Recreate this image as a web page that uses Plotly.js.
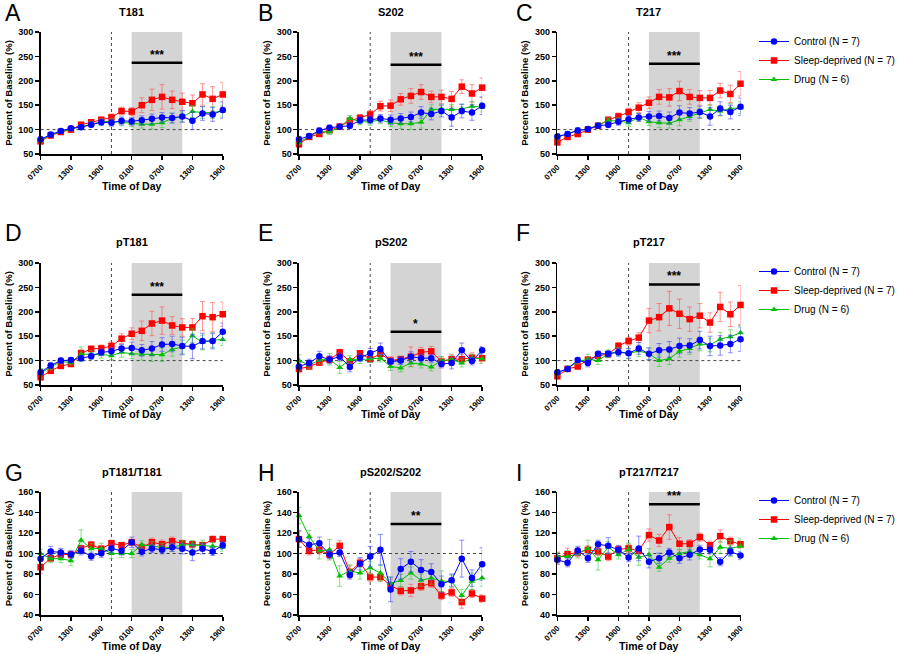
<!DOCTYPE html>
<html><head><meta charset="utf-8">
<script src="https://cdn.plot.ly/plotly-3.0.1.min.js"></script>
<style>html,body{margin:0;padding:0;background:#fff}#chart{width:900px;height:654px}</style>
</head><body><div id="chart"></div>
<script>
// x positions: hours after 0700 on day 1
const hours = [0,2,4,6,8,10,12,14,16,18,20,22,24,26,28,30,32,34,36];
const tickVals = [0,6,12,18,24,30,36];
const tickText = ['0700','1300','1900','0100','0700','1300','1900'];
const seriesNames = ['Control (N = 7)','Sleep-deprived (N = 7)','Drug (N = 6)'];
const panelTitles = ['T181','S202','T217','pT181','pS202','pT217','pT181/T181','pS202/S202','pT217/T217'];
const panelLetters = ['A','B','C','D','E','F','G','H','I'];
const sigStars = ['***','***','***','***','*','***','','**','***'];
const sigY = [237,233,235,235,159,256,null,128.7,148];
const lightsOff = 14, sdStart = 18, sdEnd = 28;

// Panel A T181
const A_ctrl = [80,90,97,103,105,110,115,114,118,117,119,122,125,124,127,118,133,131,140];
const A_sd   = [76,88,95,100,110,115,120,125,138,137,150,161,167,161,157,154,172,163,172];
const A_drug = [78,89,96,101,106,112,116,117,115,113,111,111,114,123,126,137,135,135,138];
const A_ctrlErr = [5,4,4,4,4,5,6,7,8,8,9,10,10,10,12,18,14,14,17];
const A_sdErr   = [6,5,5,5,5,5,6,7,8,8,15,22,25,18,18,17,22,25,25];
const A_drugErr = [4,4,4,4,4,5,6,6,7,7,8,10,10,10,10,12,12,12,12];
// Panel B S202
const B_ctrl = [80,87,98,104,106,108,119,120,123,120,123,126,135,132,138,125,138,135,149];
const B_sd   = [70,85,91,99,106,118,124,131,148,149,162,169,177,167,167,163,188,174,186];
const B_drug = [74,86,96,95,105,123,116,116,120,114,112,112,115,141,142,141,142,148,146];
const B_ctrlErr = [6,5,5,5,5,6,7,8,8,10,10,10,12,12,12,18,14,16,18];
const B_sdErr   = [6,5,5,5,5,6,7,8,10,12,12,15,15,12,14,15,14,18,20];
const B_drugErr = [5,5,5,5,5,6,6,7,8,8,10,12,12,10,10,10,10,10,10];
// Panel C T217
const C_ctrl = [86,91,98,101,108,110,116,121,125,127,128,124,135,133,136,127,143,136,147];
const C_sd   = [74,85,91,100,108,120,127,136,145,155,167,166,179,167,165,165,180,173,194];
const C_drug = [84,91,99,101,109,118,118,114,125,116,114,113,120,127,133,141,138,143,145];
const C_ctrlErr = [6,5,5,5,5,6,7,8,8,10,10,12,14,12,12,18,14,14,18];
const C_sdErr   = [6,5,5,5,5,6,7,8,10,12,15,18,20,15,15,15,15,18,25];
const C_drugErr = [5,5,5,5,5,6,6,7,8,8,10,10,12,10,10,10,10,10,12];
// Panel D pT181
const D_ctrl = [76,90,100,101,105,109,117,119,125,126,121,125,133,134,130,129,140,140,159];
const D_sd   = [66,79,89,93,115,124,125,130,145,155,161,176,182,172,168,168,191,189,195];
const D_drug = [74,87,98,96,113,113,113,110,117,114,113,112,112,123,128,151,137,142,143];
const D_ctrlErr = [6,5,5,5,5,6,7,8,8,12,12,14,14,16,18,25,16,16,18];
const D_sdErr   = [6,5,5,5,8,6,7,8,10,12,20,25,28,18,18,18,30,30,25];
const D_drugErr = [10,6,5,5,15,8,8,8,10,10,12,14,14,14,14,14,15,15,12];
// Panel E pS202
const E_ctrl = [88,95,109,102,108,87,106,115,124,98,100,108,105,105,93,95,121,99,121];
const E_sd   = [83,88,96,102,117,98,115,103,114,100,103,108,117,119,98,103,103,106,105];
const E_drug = [100,91,101,103,86,102,102,104,105,88,85,95,93,87,100,102,95,105,104];
const E_ctrlErr = [8,8,10,8,8,10,8,10,12,6,8,10,8,8,8,12,15,8,8];
const E_sdErr   = [8,6,6,6,6,6,6,6,8,8,6,20,10,10,10,10,10,10,10];
const E_drugErr = [12,8,8,12,12,8,8,8,8,8,8,8,8,8,8,8,8,8,10];
// Panel F pT217
const F_ctrl = [76,83,101,95,114,114,117,115,125,114,121,123,130,131,142,130,131,134,144];
const F_sd   = [68,83,88,102,110,113,130,140,147,182,189,207,196,185,192,178,210,195,214];
const F_drug = [74,84,98,103,100,114,119,114,120,114,100,104,119,125,134,132,144,149,157];
const F_ctrlErr = [6,5,5,8,5,6,8,10,12,12,14,16,16,14,18,20,20,18,25];
const F_sdErr   = [6,5,5,5,5,6,7,8,10,25,28,35,30,25,25,20,30,25,40];
const F_drugErr = [5,5,5,10,8,8,8,10,12,12,12,12,12,12,14,14,14,14,15];
// Panel G pT181/T181
const G_ctrl = [95,102,101,99,102.6,97.4,100.3,105,102.6,111,101.6,105,103.6,106,104.6,101,104.6,102,108];
const G_sd   = [86.6,95.4,99,99,105,108.5,104.6,110,108,111,106,111,109,112,110,109,108,114,114];
const G_drug = [100,95,95,93,113,104.6,105,100,100,100,108.5,107.5,106,106,108.5,108.5,108,107,106];
const G_ctrlErr = [5,5,4,4,4,4,4,4,4,5,4,4,4,4,5,8,5,4,4];
const G_sdErr   = [6,3,3,3,3,3,3,3,3,3,4,4,4,4,3,3,3,3,3];
const G_drugErr = [4,4,4,5,10,5,5,5,4,4,4,4,4,4,4,4,5,4,4];
// Panel H pS202/S202
const H_ctrl = [114,108.5,110,99,101,79,90,97,103.6,65,85,92,84,82,70,74,95,76,89.6];
const H_sd   = [114,102.6,103.6,99,107.5,82,91,77,77,69,63.5,64,68,71,59,62,52.6,61,56];
const H_drug = [137,116.6,102.6,103.6,78,83,81,86,81,71,73.6,81,74,76,73,73,59,73,76];
const H_ctrlErr = [8,6,6,4,4,4,6,10,15,12,10,10,10,8,8,6,18,8,16];
const H_sdErr   = [8,4,4,4,5,6,4,4,4,6,4,6,4,4,4,4,6,4,4];
const H_drugErr = [8,6,8,10,10,6,6,6,8,6,6,6,6,6,10,6,6,8,8];
// Panel I pT217/T217
const I_ctrl = [93.8,91,103,95.4,109,107.5,103.6,96,105,92,95.4,101,95.4,98.7,104,103.6,92,102,98];
const I_sd   = [95.4,99.3,101,103.6,102,97,104,105,102.6,118,112.7,125.8,109.5,109.5,116,108,117,112,109];
const I_drug = [97,97,99.7,105,93.8,106,98.7,104,96.4,98.7,86.6,95.4,100,102,98.7,95,106,105,107];
const I_ctrlErr = [4,4,4,4,4,8,4,4,12,6,5,4,5,5,4,4,4,4,4];
const I_sdErr   = [6,6,4,4,4,4,4,4,4,6,6,12,6,4,4,4,6,4,4];
const I_drugErr = [4,6,4,8,10,6,4,6,8,6,4,4,4,4,4,8,6,8,8];

const panelData = [
  [A_ctrl,A_sd,A_drug,A_ctrlErr,A_sdErr,A_drugErr],
  [B_ctrl,B_sd,B_drug,B_ctrlErr,B_sdErr,B_drugErr],
  [C_ctrl,C_sd,C_drug,C_ctrlErr,C_sdErr,C_drugErr],
  [D_ctrl,D_sd,D_drug,D_ctrlErr,D_sdErr,D_drugErr],
  [E_ctrl,E_sd,E_drug,E_ctrlErr,E_sdErr,E_drugErr],
  [F_ctrl,F_sd,F_drug,F_ctrlErr,F_sdErr,F_drugErr],
  [G_ctrl,G_sd,G_drug,G_ctrlErr,G_sdErr,G_drugErr],
  [H_ctrl,H_sd,H_drug,H_ctrlErr,H_sdErr,H_drugErr],
  [I_ctrl,I_sd,I_drug,I_ctrlErr,I_sdErr,I_drugErr]
];

const W = 900, H = 654;
const FONT = 'Liberation Sans, Arial, sans-serif';
const colX = [[41,225],[302,487],[563,748]];
const rowY = [[32,154],[263,385],[492,615]];
const titleY = [12,242,472];
const letterX = [3,259,519];
const letterY = [13,233,473];
const xTitleY = [186,414,646];

const colors = {ctrl:'#0000ff', sd:'#ff0000', drug:'#00c000'};
const errColors = {ctrl:'rgba(70,70,255,0.6)', sd:'rgba(255,80,80,0.6)', drug:'rgba(60,200,60,0.6)'};

const traces = [];
const layout = {
  width: W, height: H,
  margin: {l:0, r:0, t:0, b:0},
  paper_bgcolor:'#fff', plot_bgcolor:'rgba(0,0,0,0)',
  font: {family: FONT, color:'#000'},
  showlegend: true,
  shapes: [], annotations: []
};

const legendNames = ['legend','legend2','legend3'];

for (let p = 0; p < 9; p++) {
  const r = Math.floor(p/3), c = p % 3;
  const xa = 'xaxis' + (p===0?'':p+1), ya = 'yaxis' + (p===0?'':p+1);
  const xr = 'x' + (p===0?'':p+1), yr = 'y' + (p===0?'':p+1);
  const isRatio = r === 2;
  layout[xa] = {
    domain: [colX[c][0]/W, colX[c][1]/W], anchor: yr,
    range: [0,36], tickvals: tickVals, ticktext: tickText, tickangle: -45,
    showline: true, linecolor:'#000', linewidth: 1.5, showgrid: false, zeroline: false,
    ticks:'outside', ticklen: 4, tickwidth: 1.5, tickcolor:'#000',
    tickfont: {size: 8, weight: 'bold', family: FONT},
    fixedrange: true
  };
  layout[ya] = {
    domain: [1 - rowY[r][1]/H, 1 - rowY[r][0]/H], anchor: xr,
    range: isRatio ? [40,160] : [50,300], dtick: isRatio ? 20 : 50,
    showline: true, linecolor:'#000', linewidth: 1.5, showgrid: false, zeroline: false,
    ticks:'outside', ticklen: 4, tickwidth: 1.5, tickcolor:'#000',
    tickfont: {size: 9, weight: 'bold', family: FONT},
    title: {text: 'Percent of Baseline (%)', font: {size: 9.5, weight: 'bold', family: FONT}, standoff: 4},
    fixedrange: true
  };
  // grey sleep-deprivation window
  layout.shapes.push({type:'rect', xref:xr, yref: yr+' domain', x0: sdStart, x1: sdEnd, y0: 0, y1: 1,
    fillcolor:'#d4d4d4', line:{width:0}, layer:'below'});
  // lights-off dotted line
  layout.shapes.push({type:'line', xref:xr, yref: yr+' domain', x0: lightsOff, x1: lightsOff, y0: 0, y1: 1,
    line:{color:'#444', width:1, dash:'dot'}, layer:'below'});
  // baseline dotted line
  layout.shapes.push({type:'line', xref: xr+' domain', yref: yr, x0: 0, x1: 1, y0: 100, y1: 100,
    line:{color:'#444', width:1, dash:'dot'}, layer:'below'});
  // significance bar
  if (sigStars[p]) {
    layout.shapes.push({type:'line', xref:xr, yref:yr, x0: sdStart, x1: sdEnd, y0: sigY[p], y1: sigY[p],
      line:{color:'#000', width:2.5}});
    layout.annotations.push({xref:xr, yref:yr, x:(sdStart+sdEnd)/2, y:sigY[p], yanchor:'bottom', yshift:-1,
      text: sigStars[p], showarrow:false, font:{size:12, weight:'bold', family:FONT}});
  }
  // panel title
  layout.annotations.push({xref:'paper', yref:'paper', x:(colX[c][0]+colX[c][1])/2/W, y:1-titleY[r]/H,
    xanchor:'center', yanchor:'middle', text: panelTitles[p], showarrow:false,
    font:{size:11, weight:'bold', family:FONT}});
  // panel letter
  layout.annotations.push({xref:'paper', yref:'paper', x:letterX[c]/W, y:1-letterY[r]/H,
    xanchor:'left', yanchor:'middle', text: panelLetters[p], showarrow:false,
    font:{size:23, family:FONT}});
  // x title
  layout.annotations.push({xref:'paper', yref:'paper', x:(colX[c][0]+colX[c][1])/2/W, y:1-xTitleY[r]/H,
    xanchor:'center', yanchor:'middle', text: 'Time of Day', showarrow:false,
    font:{size:10.5, weight:'bold', family:FONT}});

  const d = panelData[p];
  const showLeg = c === 2;
  const specs = [
    {key:'sd', y:d[1], e:d[4], name:seriesNames[1], sym:'square', size:6.5, rank:2},
    {key:'drug', y:d[2], e:d[5], name:seriesNames[2], sym:'triangle-up', size:6, rank:3},
    {key:'ctrl', y:d[0], e:d[3], name:seriesNames[0], sym:'circle', size:6.5, rank:1}
  ];
  specs.forEach(s => {
    traces.push({
      type:'scatter', mode:'lines+markers', x: hours, y: s.y, xaxis: xr, yaxis: yr,
      name: s.name, showlegend: showLeg, legend: legendNames[r], legendrank: s.rank,
      line: {color: colors[s.key], width: 1},
      marker: {color: colors[s.key], symbol: s.sym, size: s.size},
      error_y: {type:'data', array: s.e, visible:true, color: errColors[s.key], thickness: 1, width: 2.5},
      cliponaxis: false, hoverinfo:'skip'
    });
  });
}

const legY = [27, 257, 486];
legendNames.forEach((ln, i) => {
  layout[ln] = {x: 762/W, y: 1 - legY[i]/H, xanchor:'left', yanchor:'top',
    bgcolor:'rgba(0,0,0,0)', borderwidth:0, font:{size:10, family:FONT},
    itemwidth: 30, tracegroupgap: 0, traceorder:'normal'};
});

Plotly.newPlot('chart', traces, layout, {staticPlot:true, displayModeBar:false});
</script>
</body></html>
